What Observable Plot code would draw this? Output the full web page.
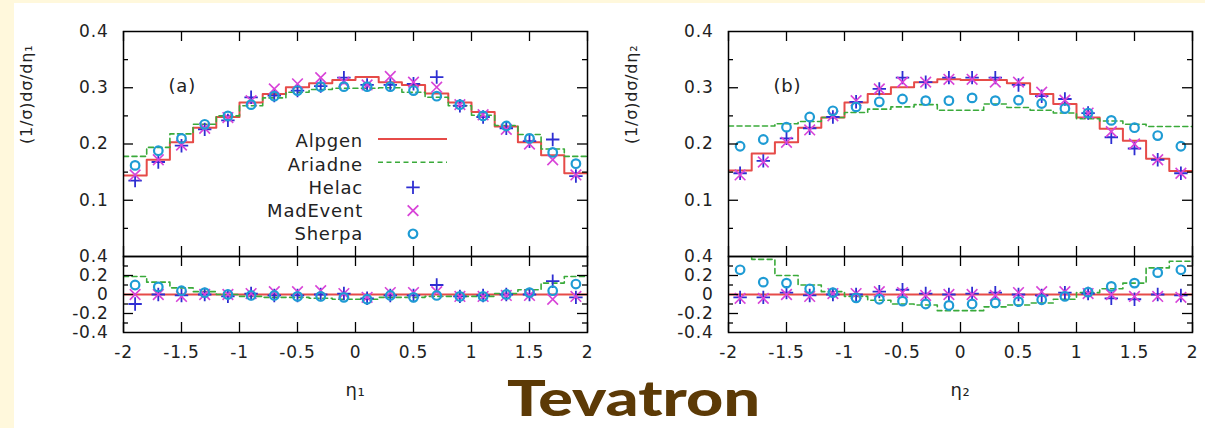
<!DOCTYPE html>
<html><head><meta charset="utf-8">
<script src="https://cdn.jsdelivr.net/npm/d3@7"></script>
<script src="https://cdn.jsdelivr.net/npm/@observablehq/plot@0.6"></script>
<style>
html,body{margin:0;padding:0;background:#FFF8DC;}
#stage{position:relative;width:1205px;height:428px;overflow:hidden;background:#FFF8DC;}
#sheet{position:absolute;left:14px;top:3px;right:0;bottom:0;background:#fff;}
.p{position:absolute;}
#title{position:absolute;left:507px;top:372px;font-family:Lato,"Open Sans",sans-serif;font-weight:900;font-size:50px;line-height:1;color:#5C3A06;white-space:nowrap;transform-origin:0 0;}
</style></head><body>
<div id="stage"><div id="sheet"></div><div id="title">Tevatron</div></div>
<script>
// ---------- data ----------
const binEdges = [-2,-1.8,-1.6,-1.4,-1.2,-1,-0.8,-0.6,-0.4,-0.2,0,0.2,0.4,0.6,0.8,1,1.2,1.4,1.6,1.8,2];
const binCenters = [-1.9,-1.7,-1.5,-1.3,-1.1,-0.9,-0.7,-0.5,-0.3,-0.1,0.1,0.3,0.5,0.7,0.9,1.1,1.3,1.5,1.7,1.9];
const xTickValues = [-2,-1.5,-1,-0.5,0,0.5,1,1.5,2];
const upperYTicks = [0.1,0.2,0.3,0.4];
const upperYMinor = [0.05,0.15,0.25,0.35];
const upperYMajorMarks = [0.1,0.2,0.3];
const lowerYTicks = [-0.4,-0.2,0,0.2,0.4];
const lowerYMajorMarks = [-0.2,0,0.2];
const lowerYMinor = [-0.3,-0.1,0.1,0.3];
const seriesNames = ["Alpgen","Ariadne","Helac","MadEvent","Sherpa"];

// panel (a): eta_1
const alpgenA   = [0.144,0.172,0.203,0.229,0.248,0.274,0.289,0.301,0.308,0.314,0.319,0.310,0.305,0.290,0.274,0.257,0.231,0.203,0.180,0.148];
const ariadneA  = [0.178,0.194,0.218,0.235,0.250,0.268,0.282,0.292,0.297,0.299,0.299,0.300,0.292,0.283,0.268,0.251,0.233,0.217,0.191,0.178];
const helacA    = [0.135,0.168,0.197,0.226,0.242,0.283,0.286,0.295,0.303,0.318,0.305,0.305,0.307,0.319,0.268,0.248,0.228,0.205,0.208,0.143];
const madeventA = [0.145,0.172,0.198,0.228,0.247,0.277,0.298,0.307,0.318,0.310,0.305,0.320,0.310,0.301,0.270,0.252,0.226,0.200,0.172,0.145];
const sherpaA   = [0.162,0.188,0.210,0.235,0.250,0.270,0.285,0.295,0.302,0.302,0.302,0.302,0.295,0.285,0.270,0.250,0.232,0.210,0.185,0.165];
const alpgenRatioA   = [0,0,0,0,0,0,0,0,0,0,0,0,0,0,0,0,0,0,0,0];
const ariadneRatioA  = [0.19,0.13,0.07,0.03,0.0,-0.02,-0.03,-0.03,-0.04,-0.05,-0.05,-0.03,-0.03,-0.02,-0.02,-0.02,0.01,0.05,0.12,0.19];
const helacRatioA    = [-0.1,0.0,-0.01,0.0,-0.02,0.01,-0.01,-0.01,0.0,0.01,-0.04,-0.01,-0.01,0.1,-0.02,-0.01,0.0,0.0,0.14,-0.03];
const madeventRatioA = [0.0,0.0,-0.02,0.0,0.0,0.01,0.03,0.03,0.04,0.01,-0.03,0.02,0.02,0.03,-0.02,-0.02,-0.01,-0.01,-0.05,-0.02];
const sherpaRatioA   = [0.1,0.08,0.04,0.02,0.0,-0.01,-0.01,-0.02,-0.02,-0.03,-0.05,-0.01,-0.03,-0.01,-0.02,-0.02,0.0,0.02,0.04,0.11];

// panel (b): eta_2
const alpgenB   = [0.153,0.183,0.203,0.229,0.247,0.274,0.289,0.301,0.310,0.315,0.314,0.314,0.308,0.289,0.271,0.247,0.227,0.206,0.174,0.152];
const ariadneB  = [0.232,0.232,0.236,0.240,0.247,0.256,0.262,0.266,0.270,0.260,0.260,0.271,0.265,0.260,0.255,0.245,0.241,0.235,0.231,0.231];
const helacB    = [0.148,0.170,0.210,0.228,0.248,0.275,0.298,0.318,0.310,0.318,0.318,0.318,0.305,0.285,0.280,0.255,0.212,0.192,0.172,0.148];
const madeventB = [0.145,0.168,0.203,0.225,0.250,0.277,0.298,0.310,0.310,0.315,0.315,0.310,0.310,0.292,0.278,0.255,0.222,0.200,0.172,0.148];
const sherpaB   = [0.196,0.208,0.230,0.248,0.259,0.266,0.275,0.280,0.277,0.277,0.282,0.277,0.278,0.272,0.263,0.255,0.242,0.229,0.215,0.196];
const alpgenRatioB   = [0,0,0,0,0,0,0,0,0,0,0,0,0,0,0,0,0,0,0,0];
const ariadneRatioB  = [0.5,0.37,0.2,0.1,0.03,-0.02,-0.06,-0.1,-0.11,-0.17,-0.17,-0.13,-0.11,-0.09,-0.05,0.02,0.06,0.12,0.28,0.35];
const helacRatioB    = [-0.03,-0.03,0.02,-0.01,0.0,0.0,0.03,0.05,0.01,0.0,0.01,0.02,0.0,-0.01,0.02,0.01,-0.04,-0.05,0.0,-0.01];
const madeventRatioB = [-0.04,-0.04,0.0,-0.02,0.01,0.01,0.03,0.02,-0.01,0.0,0.0,-0.01,0.02,0.03,0.03,0.01,0.0,-0.02,-0.02,-0.03];
const sherpaRatioB   = [0.26,0.13,0.12,0.06,0.02,-0.035,-0.05,-0.07,-0.1,-0.115,-0.1,-0.09,-0.075,-0.055,-0.02,0.025,0.085,0.12,0.23,0.26];

// ---------- style ----------
const colors = {Alpgen:"#e64b48", Ariadne:"#3aaa3a", Helac:"#2e2ed2", MadEvent:"#d844d8", Sherpa:"#1e9bd4"};
const symbolSize = {plus:4.4, times:4.9, circle:4.3};
const FONT = "'DejaVu Sans','Liberation Sans',sans-serif";
const baseStyle = {background:"transparent", overflow:"visible", color:"#222", fontFamily:FONT, fontSize:"17px", letterSpacing:"0.8px"};

const stepData = v => binEdges.map((x, i) => ({x, y: v[Math.min(i, v.length - 1)]}));
const pointData = v => binCenters.map((x, i) => ({x, y: v[i]}));

function seriesMarks(s) {
  return [
    Plot.line(stepData(s.alpgen), {x:"x", y:"y", curve:"step-after", stroke:colors.Alpgen, strokeWidth:2, clip:true}),
    Plot.line(stepData(s.ariadne), {x:"x", y:"y", curve:"step-after", stroke:colors.Ariadne, strokeWidth:1.6, strokeDasharray:"5,3.5", clip:true}),
    Plot.dot(pointData(s.helac), {x:"x", y:"y", symbol:"plus", r:symbolSize.plus, stroke:colors.Helac, strokeWidth:1.8, clip:true}),
    Plot.dot(pointData(s.madevent), {x:"x", y:"y", symbol:"times", r:symbolSize.times, stroke:colors.MadEvent, strokeWidth:1.6, clip:true}),
    Plot.dot(pointData(s.sherpa), {x:"x", y:"y", symbol:"circle", r:symbolSize.circle, fill:"none", stroke:colors.Sherpa, strokeWidth:2.2, clip:true})
  ];
}

function tickMarks(y0, y1, major, minor) {
  const st = {stroke:"black", strokeWidth:1.3};
  return [
    Plot.ruleY(major, {x1:-2, x2:-2, insetRight:-10, ...st}),
    Plot.ruleY(major, {x1:2, x2:2, insetLeft:-10, ...st}),
    Plot.ruleY(minor, {x1:-2, x2:-2, insetRight:-5, ...st}),
    Plot.ruleY(minor, {x1:2, x2:2, insetLeft:-5, ...st}),
    Plot.ruleX(xTickValues, {y1:y1, y2:y1, insetBottom:-10, ...st}),
    Plot.ruleX(xTickValues, {y1:y0, y2:y0, insetTop:-10, ...st})
  ];
}

function place(el, left, top) {
  el.classList.add("p");
  el.style.left = left + "px";
  el.style.top = top + "px";
  document.getElementById("stage").appendChild(el);
}

function makePanel(cfg) {
  const upper = Plot.plot({
    width:600, height:262, marginLeft:123, marginRight:13, marginTop:31, marginBottom:6,
    x:{domain:[-2,2], axis:null},
    y:{domain:[0,0.4], ticks:upperYTicks, tickSize:0, tickPadding:15, tickFormat:d => String(d), label:null},
    style:baseStyle,
    marks:[
      ...seriesMarks(cfg.upper),
      Plot.frame({stroke:"black", strokeWidth:1.5}),
      ...tickMarks(0, 0.4, upperYMajorMarks, upperYMinor),
      Plot.text([cfg.yName], {frameAnchor:"left", dx:-97, rotate:-90, fontSize:16}),
      Plot.text([cfg.tag], {frameAnchor:"top-left", dx:45, dy:48, textAnchor:"start", fontSize:18})
    ]
  });
  place(upper, cfg.left, 0);

  const lower = Plot.plot({
    width:600, height:178, marginLeft:123, marginRight:13, marginTop:6, marginBottom:96,
    x:{domain:[-2,2], ticks:xTickValues, tickSize:0, tickPadding:13, tickFormat:d => String(d), label:null},
    y:{domain:[-0.4,0.4], ticks:lowerYTicks, tickSize:0, tickPadding:15, tickFormat:d => String(d), label:null},
    style:baseStyle,
    marks:[
      ...seriesMarks(cfg.lower),
      Plot.frame({stroke:"black", strokeWidth:1.5}),
      ...tickMarks(-0.4, 0.4, lowerYMajorMarks, lowerYMinor),
      Plot.text([cfg.xName], {frameAnchor:"bottom", dy:63, fontSize:18})
    ]
  });
  place(lower, cfg.left, 250);
  return upper;
}

makePanel({
  left:0, tag:"(a)", xName:"η₁", yName:"(1/σ)dσ/dη₁",
  upper:{alpgen:alpgenA, ariadne:ariadneA, helac:helacA, madevent:madeventA, sherpa:sherpaA},
  lower:{alpgen:alpgenRatioA, ariadne:ariadneRatioA, helac:helacRatioA, madevent:madeventRatioA, sherpa:sherpaRatioA}
});
makePanel({
  left:605, tag:"(b)", xName:"η₂", yName:"(1/σ)dσ/dη₂",
  upper:{alpgen:alpgenB, ariadne:ariadneB, helac:helacB, madevent:madeventB, sherpa:sherpaB},
  lower:{alpgen:alpgenRatioB, ariadne:ariadneRatioB, helac:helacRatioB, madevent:madeventRatioB, sherpa:sherpaRatioB}
});

// ---------- legend (panel a) ----------
const legend = d3.create("svg").attr("width", 600).attr("height", 262)
  .style("overflow", "visible").style("font-family", FONT).style("font-size", "18px").style("letter-spacing", "0.8px");
const kinds = {Alpgen:"solid", Ariadne:"dash", Helac:"plus", MadEvent:"times", Sherpa:"circle"};
seriesNames.forEach((name, i) => {
  const cy = 141 + i * 23.2;
  legend.append("text").attr("x", 363).attr("y", cy).attr("dy", "0.35em")
    .attr("text-anchor", "end").attr("fill", "#222").text(name);
  const k = kinds[name];
  if (k === "solid" || k === "dash") {
    legend.append("line").attr("x1", 378).attr("x2", 447).attr("y1", cy - 2).attr("y2", cy - 2)
      .attr("stroke", colors[name]).attr("stroke-width", k === "solid" ? 2 : 1.6)
      .attr("stroke-dasharray", k === "dash" ? "5,3.5" : null);
  } else {
    const sym = k === "plus" ? d3.symbolPlus : k === "times" ? d3.symbolTimes : d3.symbolCircle;
    const r = symbolSize[k];
    legend.append("path").attr("transform", `translate(413,${cy})`)
      .attr("d", d3.symbol(sym, r * r * Math.PI)())
      .attr("fill", "none").attr("stroke", colors[name]).attr("stroke-width", k === "circle" ? 2.2 : 1.8);
  }
});
place(legend.node(), 0, 0);

// ---------- title width fit ----------
const title = document.getElementById("title");
const w = title.getBoundingClientRect().width;
title.style.transform = `scaleX(${253 / w})`;
</script>
</body></html>
